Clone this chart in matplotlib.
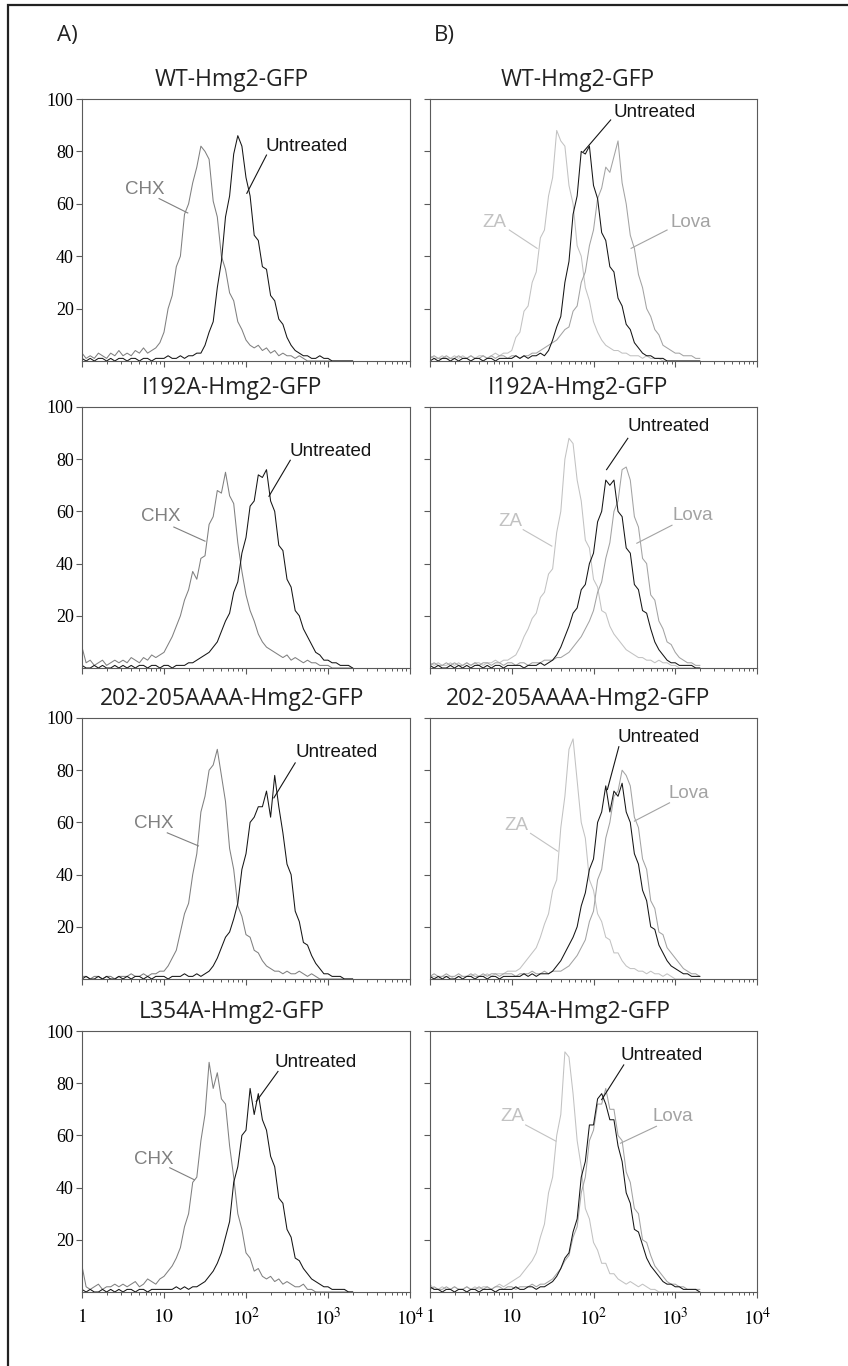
import numpy as np
import matplotlib
matplotlib.use('Agg')
import matplotlib.pyplot as plt
from matplotlib.ticker import LogLocator, NullFormatter
from matplotlib.patches import Rectangle

plt.rcParams['mathtext.fontset'] = 'stix'

# histogram channels: 0.05 decade bins from 1 to ~2000
log_channel = np.arange(67) * 0.05
channel = 10 ** log_channel

titles = ['WT-Hmg2-GFP', 'I192A-Hmg2-GFP', '202-205AAAA-Hmg2-GFP', 'L354A-Hmg2-GFP']

# ---- column A: CHX vs untreated (% of max events) ----
wt_chx = [3, 1, 2, 1, 3, 2, 1, 3, 2, 4,
          2, 3, 2, 4, 3, 5, 3, 4, 5, 7,
          11, 20, 25, 36, 40, 56, 60, 68, 74, 82,
          80, 77, 61, 55, 40, 35, 26, 23, 15, 12,
          8, 6, 5, 6, 4, 5, 3, 4, 2, 3,
          2, 2, 1, 2, 1, 0, 0, 0, 0, 0,
          0, 0, 0, 0, 0, 0, 0]
wt_unt_a = [1, 0, 1, 0, 1, 1, 0, 1, 0, 1,
            1, 0, 1, 1, 0, 1, 1, 0, 1, 1,
            1, 2, 1, 1, 2, 1, 2, 2, 3, 3,
            6, 11, 15, 28, 38, 55, 63, 79, 86, 82,
            70, 63, 48, 46, 36, 35, 25, 23, 16, 14,
            9, 6, 4, 3, 2, 2, 1, 1, 2, 1,
            1, 0, 0, 0, 0, 0, 0]
i192a_chx = [8, 2, 3, 1, 2, 3, 1, 2, 3, 2,
             3, 2, 4, 3, 2, 4, 3, 5, 4, 5,
             6, 9, 12, 16, 20, 26, 30, 37, 34, 42,
             43, 55, 58, 68, 67, 75, 66, 63, 48, 37,
             28, 22, 18, 13, 10, 8, 7, 6, 5, 4,
             5, 3, 4, 3, 2, 3, 2, 2, 1, 1,
             1, 0, 0, 0, 0, 0, 0]
i192a_unt_a = [1, 0, 0, 1, 0, 1, 0, 0, 1, 0,
               1, 0, 1, 0, 1, 1, 0, 1, 1, 0,
               1, 1, 0, 1, 1, 1, 2, 2, 3, 4,
               5, 6, 8, 10, 14, 18, 21, 29, 33, 44,
               50, 62, 64, 74, 73, 76, 64, 60, 47, 45,
               34, 31, 22, 20, 15, 12, 9, 6, 5, 3,
               3, 2, 2, 1, 1, 1, 0]
aaaa_chx = [1, 1, 0, 1, 1, 0, 1, 1, 0, 1,
            1, 1, 2, 1, 1, 2, 1, 2, 2, 3,
            3, 5, 8, 11, 18, 25, 29, 40, 48, 64,
            70, 80, 82, 88, 78, 68, 50, 42, 28, 24,
            17, 16, 11, 10, 7, 5, 4, 3, 3, 2,
            3, 2, 2, 3, 2, 1, 2, 1, 0, 0,
            0, 0, 0, 0, 0, 0, 0]
aaaa_unt_a = [0, 1, 0, 0, 1, 0, 1, 0, 0, 1,
              0, 1, 0, 1, 1, 0, 1, 0, 1, 1,
              1, 0, 1, 1, 1, 2, 1, 1, 2, 1,
              2, 3, 5, 8, 12, 16, 18, 23, 29, 42,
              48, 60, 62, 66, 66, 72, 62, 78, 66, 56,
              44, 40, 26, 22, 14, 13, 9, 6, 4, 2,
              2, 1, 1, 1, 0, 0, 0]
l354a_chx = [10, 2, 1, 2, 3, 1, 2, 2, 3, 2,
             3, 2, 3, 4, 2, 3, 5, 4, 3, 5,
             6, 8, 10, 13, 17, 25, 30, 42, 44, 58,
             68, 88, 78, 84, 74, 72, 56, 44, 30, 24,
             15, 13, 8, 9, 6, 5, 6, 4, 5, 3,
             4, 3, 2, 2, 3, 1, 1, 0, 0, 0,
             0, 0, 0, 0, 0, 0, 0]
l354a_unt_a = [1, 0, 1, 0, 0, 1, 0, 1, 0, 1,
               0, 1, 1, 0, 1, 1, 0, 1, 1, 1,
               1, 1, 1, 2, 1, 2, 1, 2, 2, 3,
               4, 6, 8, 11, 15, 21, 27, 42, 48, 60,
               62, 78, 68, 76, 66, 62, 52, 48, 36, 34,
               24, 21, 13, 12, 9, 7, 5, 4, 3, 2,
               2, 1, 1, 1, 1, 0, 0]

# ---- column B: ZA / Lova vs untreated ----
wt_za = [2, 1, 1, 2, 1, 1, 2, 1, 2, 1,
         2, 1, 2, 2, 1, 2, 3, 2, 3, 3,
         4, 9, 11, 19, 21, 30, 34, 47, 50, 63,
         70, 88, 84, 82, 67, 60, 44, 40, 28, 23,
         15, 11, 8, 6, 5, 4, 4, 3, 3, 2,
         2, 2, 1, 2, 1, 1, 1, 0, 0, 0,
         0, 0, 0, 0, 0, 0, 0]
wt_unt_b = [0, 1, 0, 1, 1, 0, 1, 0, 1, 1,
            0, 1, 1, 0, 1, 1, 0, 1, 1, 1,
            1, 2, 1, 2, 1, 2, 2, 3, 2, 4,
            8, 13, 17, 30, 38, 56, 63, 80, 79, 82,
            67, 62, 49, 46, 36, 34, 24, 21, 14, 12,
            7, 5, 3, 2, 2, 1, 1, 1, 0, 0,
            0, 0, 0, 0, 0, 0, 0]
wt_lova = [1, 2, 1, 1, 2, 1, 1, 2, 1, 1,
           2, 1, 1, 2, 1, 2, 1, 2, 2, 1,
           2, 2, 1, 2, 2, 3, 3, 4, 5, 6,
           7, 8, 10, 12, 13, 19, 21, 30, 34, 44,
           50, 62, 66, 74, 72, 78, 84, 68, 60, 48,
           43, 33, 28, 20, 17, 12, 10, 6, 5, 4,
           3, 3, 2, 2, 2, 1, 1]
i192a_za = [2, 1, 2, 1, 1, 2, 1, 2, 1, 2,
            1, 2, 2, 1, 2, 2, 3, 2, 3, 3,
            4, 5, 8, 12, 15, 19, 21, 27, 29, 36,
            38, 52, 60, 80, 88, 86, 72, 64, 49, 46,
            34, 31, 22, 21, 16, 13, 11, 9, 7, 6,
            5, 4, 4, 3, 3, 2, 3, 2, 2, 1,
            1, 0, 0, 0, 0, 0, 0]
i192a_unt_b = [1, 0, 1, 0, 0, 1, 0, 1, 0, 1,
               0, 1, 1, 0, 1, 0, 1, 1, 0, 1,
               1, 1, 1, 0, 1, 1, 1, 2, 1, 2,
               3, 5, 8, 12, 16, 21, 23, 30, 32, 40,
               44, 56, 60, 72, 70, 72, 60, 58, 46, 44,
               32, 30, 22, 21, 15, 10, 7, 5, 3, 2,
               2, 1, 1, 1, 1, 0, 0]
i192a_lova = [1, 2, 1, 1, 2, 1, 2, 1, 1, 2,
              1, 2, 1, 2, 2, 1, 2, 2, 1, 2,
              2, 1, 2, 2, 1, 2, 2, 2, 3, 3,
              3, 4, 4, 5, 6, 8, 10, 12, 15, 18,
              22, 29, 33, 42, 48, 60, 64, 76, 77, 72,
              58, 54, 42, 40, 28, 26, 18, 15, 10, 9,
              6, 4, 3, 2, 2, 1, 1]
aaaa_za = [1, 1, 0, 1, 1, 1, 0, 1, 1, 1,
           1, 2, 1, 1, 2, 1, 2, 2, 2, 3,
           3, 3, 4, 6, 8, 10, 12, 16, 21, 25,
           34, 38, 58, 70, 88, 92, 76, 60, 54, 38,
           34, 25, 22, 16, 15, 10, 10, 7, 5, 4,
           4, 3, 3, 2, 3, 2, 2, 1, 2, 1,
           0, 0, 0, 0, 0, 0, 0]
aaaa_unt_b = [1, 0, 1, 0, 1, 0, 0, 1, 0, 1,
              1, 0, 1, 1, 0, 1, 1, 0, 1, 1,
              1, 1, 1, 2, 1, 2, 1, 2, 2, 2,
              3, 5, 7, 10, 13, 16, 20, 28, 33, 42,
              46, 60, 64, 74, 64, 72, 70, 75, 64, 60,
              48, 44, 34, 30, 20, 19, 13, 10, 7, 5,
              4, 3, 2, 2, 1, 1, 1]
aaaa_lova = [1, 2, 1, 1, 2, 1, 1, 2, 1, 1,
             2, 1, 1, 2, 1, 2, 2, 1, 2, 2,
             2, 1, 2, 2, 2, 3, 2, 2, 3, 2,
             3, 3, 3, 4, 5, 7, 9, 12, 15, 22,
             26, 38, 42, 54, 60, 70, 72, 80, 78, 74,
             62, 58, 46, 42, 30, 27, 18, 17, 12, 10,
             8, 6, 4, 3, 2, 2, 1]
l354a_za = [3, 1, 1, 2, 1, 1, 2, 1, 1, 2,
            1, 2, 1, 2, 2, 1, 2, 3, 2, 3,
            4, 5, 6, 8, 10, 12, 15, 21, 26, 38,
            44, 60, 68, 92, 90, 76, 58, 48, 32, 28,
            19, 16, 11, 11, 7, 7, 5, 4, 3, 4,
            3, 2, 3, 2, 1, 1, 0, 0, 0, 0,
            0, 0, 0, 0, 0, 0, 0]
l354a_unt_b = [2, 1, 1, 0, 1, 1, 0, 1, 1, 0,
               1, 1, 0, 1, 1, 1, 0, 1, 1, 1,
               1, 2, 1, 1, 2, 2, 1, 2, 2, 3,
               4, 6, 9, 13, 15, 23, 28, 44, 50, 64,
               64, 74, 76, 72, 66, 66, 56, 50, 38, 34,
               24, 23, 18, 13, 10, 8, 6, 4, 3, 3,
               2, 2, 1, 1, 1, 1, 0]
l354a_lova = [1, 2, 1, 1, 2, 1, 2, 1, 1, 2,
              1, 1, 2, 1, 2, 1, 2, 2, 1, 2,
              2, 1, 2, 2, 2, 3, 2, 3, 3, 4,
              5, 7, 9, 12, 14, 21, 25, 38, 44, 58,
              62, 72, 72, 78, 70, 70, 60, 58, 46, 42,
              32, 30, 20, 19, 14, 10, 8, 6, 4, 3,
              3, 2, 2, 1, 1, 1, 1]

UNT = '#151515'
CHX = '#808080'
ZA = '#c2c2c2'
LOVA = '#a3a3a3'
SPINE = '#5a5a5a'

left_curves = [(wt_chx, wt_unt_a), (i192a_chx, i192a_unt_a),
               (aaaa_chx, aaaa_unt_a), (l354a_chx, l354a_unt_a)]
right_curves = [(wt_za, wt_lova, wt_unt_b), (i192a_za, i192a_lova, i192a_unt_b),
                (aaaa_za, aaaa_lova, aaaa_unt_b), (l354a_za, l354a_lova, l354a_unt_b)]

# label text (log x, y), connector start, connector end -- in log10 / % units
left_labels = [
    [('CHX', CHX, (0.77, 65.6), (0.94, 62), (1.29, 56.5)),
     ('Untreated', UNT, (2.74, 82), (2.25, 78.6), (2.01, 64))],
    [('CHX', CHX, (0.96, 58), (1.12, 54), (1.50, 48.6)),
     ('Untreated', UNT, (3.03, 83), (2.54, 79.6), (2.28, 65.8))],
    [('CHX', CHX, (0.87, 59.6), (1.04, 56), (1.42, 51)),
     ('Untreated', UNT, (3.10, 86.6), (2.60, 82.8), (2.34, 69.4))],
    [('CHX', CHX, (0.875, 50.8), (1.07, 47.6), (1.37, 43)),
     ('Untreated', UNT, (2.85, 88), (2.39, 84.5), (2.125, 73))],
]
right_labels = [
    [('ZA', ZA, (0.79, 53), (0.97, 50), (1.31, 43)),
     ('Lova', LOVA, (3.19, 53), (2.90, 50), (2.46, 43)),
     ('Untreated', UNT, (2.75, 95), (2.21, 92), (1.88, 80))],
    [('ZA', ZA, (0.98, 56), (1.14, 53), (1.49, 46.7)),
     ('Lova', LOVA, (3.21, 58.5), (2.96, 54.7), (2.53, 47.8)),
     ('Untreated', UNT, (2.92, 92.6), (2.42, 88), (2.16, 76))],
    [('ZA', ZA, (1.06, 59), (1.23, 55.8), (1.56, 49)),
     ('Lova', LOVA, (3.17, 71), (2.93, 67.5), (2.50, 60.5)),
     ('Untreated', UNT, (2.80, 92.7), (2.31, 89), (2.17, 72.6))],
    [('ZA', ZA, (1.01, 67.3), (1.17, 64), (1.54, 57.8)),
     ('Lova', LOVA, (2.97, 67.3), (2.77, 63.5), (2.33, 57)),
     ('Untreated', UNT, (2.83, 90.6), (2.37, 87), (2.10, 73.7))],
]

W, H = 848, 1366
row_px = [(99, 361), (407, 668), (718, 979), (1031, 1292)]
col_px = [(82, 410), (430, 757)]
title_cx = [232, 578]


def style_axes(ax, show_ylabels, show_xlabels):
    ax.set_xscale('log')
    ax.set_xlim(1, 1e4)
    ax.set_ylim(0, 100)
    for s in ax.spines.values():
        s.set_color(SPINE)
        s.set_linewidth(0.8)
    ax.set_yticks([20, 40, 60, 80, 100])
    ax.set_xticks([1, 10, 100, 1000, 10000])
    ax.xaxis.set_minor_locator(LogLocator(base=10, subs=np.arange(2, 10)))
    ax.xaxis.set_minor_formatter(NullFormatter())
    ax.tick_params(axis='both', which='major', direction='out', length=4,
                   width=0.8, color=SPINE, labelsize=13, pad=2)
    ax.tick_params(axis='x', which='minor', direction='out', length=2.5,
                   width=0.7, color=SPINE)
    if show_ylabels:
        ax.set_yticklabels(['20', '40', '60', '80', '100'],
                           family='Liberation Serif', fontsize=13)
    else:
        ax.tick_params(axis='y', labelleft=False)
    if show_xlabels:
        ax.set_xticklabels([r'$1$', r'$10$', r'$10^{2}$', r'$10^{3}$', r'$10^{4}$'],
                           fontsize=14)
        ax.tick_params(axis='x', pad=7)
    else:
        ax.tick_params(axis='x', labelbottom=False)


def add_labels(ax, labels):
    for text, color, (tx, ty), (x1, y1), (x2, y2) in labels:
        ax.plot([10 ** x1, 10 ** x2], [y1, y2], color=color, linewidth=0.8)
        ax.text(10 ** tx, ty, text, color=color, ha='center', va='center',
                fontsize=13.5, family=['Liberation Sans', 'DejaVu Sans'])


fig = plt.figure(figsize=(W / 100, H / 100), dpi=100)

# outer frame (runs off the right and bottom edges)
fig.patches.append(Rectangle((8 / W, -0.1), 1.2, 1.1 - 5 / H,
                             transform=fig.transFigure, fill=False,
                             edgecolor='#222222', linewidth=1.6))

fig.text(57 / W, 1 - 35 / H, 'A)', fontsize=16, va='center', ha='left',
         family=['Open Sans', 'DejaVu Sans'], color='#222222')
fig.text(434 / W, 1 - 35 / H, 'B)', fontsize=16, va='center', ha='left',
         family=['Open Sans', 'DejaVu Sans'], color='#222222')

for r, (top, bottom) in enumerate(row_px):
    for c, (x0, x1) in enumerate(col_px):
        ax = fig.add_axes([x0 / W, 1 - bottom / H, (x1 - x0) / W, (bottom - top) / H])
        style_axes(ax, show_ylabels=(c == 0), show_xlabels=(r == 3))
        if c == 0:
            chx, unt = left_curves[r]
            ax.plot(channel, chx, color=CHX, linewidth=0.75)
            ax.plot(channel, unt, color=UNT, linewidth=0.75)
            add_labels(ax, left_labels[r])
        else:
            za, lova, unt = right_curves[r]
            ax.plot(channel, za, color=ZA, linewidth=0.75)
            ax.plot(channel, lova, color=LOVA, linewidth=0.75)
            ax.plot(channel, unt, color=UNT, linewidth=0.75)
            add_labels(ax, right_labels[r])
        fig.text(title_cx[c] / W, 1 - (top - 19) / H, titles[r], fontsize=16.5,
                 ha='center', va='center', color='#222222',
                 family=['Open Sans', 'DejaVu Sans'])

fig.savefig('out.png', dpi=100)
